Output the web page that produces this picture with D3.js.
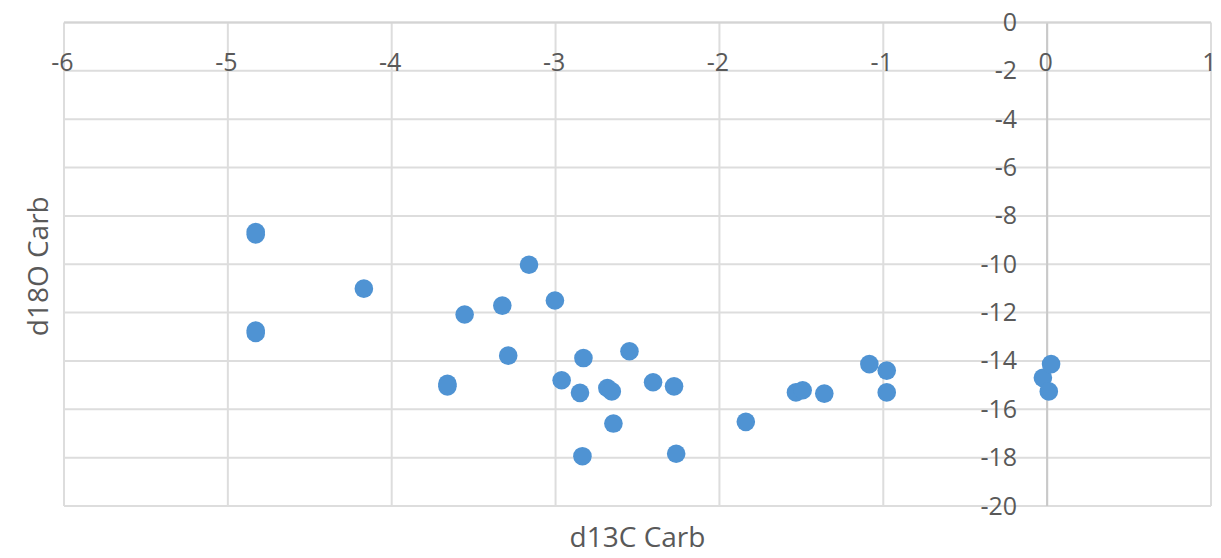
<!DOCTYPE html>
<html>
<head>
<meta charset="utf-8">
<script src="https://cdn.jsdelivr.net/npm/d3@7"></script>
<style>
  html, body { margin: 0; padding: 0; background: #ffffff; }
  svg { display: block; }
  text { font-family: "Open Sans", "Noto Sans", sans-serif; fill: #595959; }
</style>
</head>
<body>
<svg id="chart" width="1221" height="558"></svg>
<script>
// Data
const d13C = [-4.83, -4.83, -4.83, -4.83, -4.17, -3.66, -3.66, -3.555, -3.325, -3.289, -3.162, -3.004,
              -2.963, -2.851, -2.836, -2.830, -2.684, -2.657, -2.647, -2.549, -2.405, -2.277, -2.264,
              -1.839, -1.533, -1.492, -1.360, -1.085, -0.979, -0.979, -0.026, 0.010, 0.024];
const d18O = [-8.67, -8.77, -12.74, -12.84, -11.01, -14.95, -15.05, -12.08, -11.71, -13.78, -10.02, -11.50,
              -14.80, -15.32, -17.94, -13.88, -15.12, -15.26, -16.59, -13.60, -14.88, -15.05, -17.84,
              -16.52, -15.30, -15.21, -15.35, -14.13, -14.40, -15.30, -14.70, -15.26, -14.13];
const xTicks = [-6, -5, -4, -3, -2, -1, 0, 1];
const yTicks = [0, -2, -4, -6, -8, -10, -12, -14, -16, -18, -20];
const xTitle = "d13C Carb";
const yTitle = "d18O Carb";

const svg = d3.select("#chart");
const pLeft = 64, pRight = 1211, pTop = 22.5, pBottom = 506;

const x = d3.scaleLinear().domain([-6, 1]).range([pLeft, pRight]);
const y = d3.scaleLinear().domain([0, -20]).range([pTop, pBottom]);
const fmt = d => String(d);

// gridlines
const grid = svg.append("g");
grid.selectAll("line.vg").data(xTicks).join("line")
  .attr("x1", d => x(d)).attr("x2", d => x(d))
  .attr("y1", pTop).attr("y2", pBottom)
  .attr("stroke", "#dddddd").attr("stroke-width", 2);
grid.selectAll("line.hg").data(yTicks).join("line")
  .attr("x1", pLeft).attr("x2", pRight)
  .attr("y1", d => y(d)).attr("y2", d => y(d))
  .attr("stroke", "#dddddd").attr("stroke-width", 2);

// axis lines (crossing at 0)
svg.append("line")
  .attr("x1", x(0)).attr("x2", x(0)).attr("y1", pTop).attr("y2", pBottom)
  .attr("stroke", "#c9c9c9").attr("stroke-width", 2);
svg.append("line")
  .attr("x1", pLeft).attr("x2", pRight).attr("y1", y(0)).attr("y2", y(0))
  .attr("stroke", "#d4d4d4").attr("stroke-width", 2);

// x axis labels
const xAxis = svg.append("g")
  .attr("transform", `translate(0,${y(0)})`)
  .call(d3.axisBottom(x).tickValues(xTicks).tickSize(0).tickPadding(31).tickFormat(fmt));
xAxis.select(".domain").remove();
xAxis.selectAll("text")
  .attr("dx", -2)
  .style("font-size", "25px")
  .style("font-family", "'Open Sans', sans-serif")
  .attr("fill", "#595959");

// y axis labels
const yAxis = svg.append("g")
  .attr("transform", `translate(${x(0)},0)`)
  .call(d3.axisLeft(y).tickValues(yTicks).tickSize(0).tickPadding(30).tickFormat(fmt));
yAxis.select(".domain").remove();
yAxis.selectAll("text")
  .style("font-size", "25px")
  .style("font-family", "'Open Sans', sans-serif")
  .attr("fill", "#595959");

// points
const pts = d13C.map((v, i) => ({ x: v, y: d18O[i] }));
svg.append("g").selectAll("circle").data(pts).join("circle")
  .attr("cx", d => x(d.x)).attr("cy", d => y(d.y))
  .attr("r", 9.3)
  .attr("fill", "#4f93d3");

// axis titles
svg.append("text")
  .attr("x", (pLeft + pRight) / 2).attr("y", 547)
  .attr("text-anchor", "middle")
  .style("font-size", "28px")
  .text(xTitle);
svg.append("text")
  .attr("transform", `translate(48,${(pTop + pBottom) / 2 + 2}) rotate(-90)`)
  .attr("text-anchor", "middle")
  .style("font-size", "28px")
  .text(yTitle);
</script>
</body>
</html>
